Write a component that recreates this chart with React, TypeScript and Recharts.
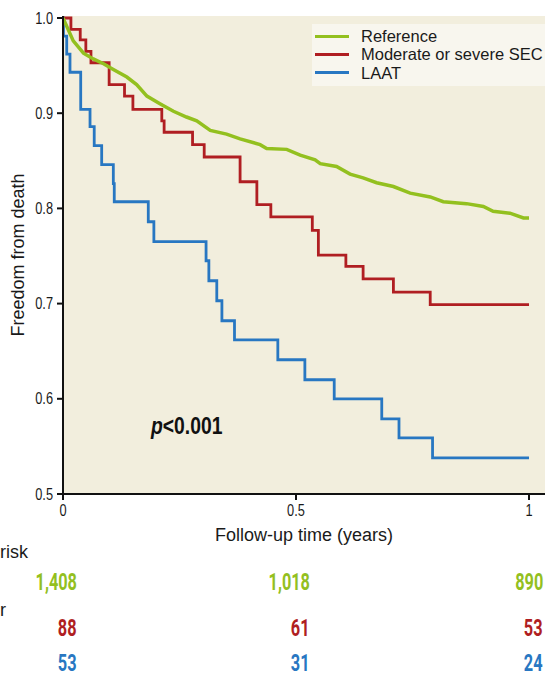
import { LineChart, Line, XAxis, YAxis, CartesianGrid, Legend } from "recharts";

// Kaplan-Meier estimates (time in years, survival)
const refTime = [0, 0.022, 0.044, 0.065, 0.087, 0.108, 0.137, 0.158, 0.18, 0.208, 0.237, 0.265, 0.287, 0.316, 0.351, 0.38, 0.423, 0.437, 0.48, 0.509, 0.541, 0.552, 0.587, 0.616, 0.644, 0.673, 0.709, 0.745, 0.788, 0.816, 0.866, 0.902, 0.923, 0.959, 0.988, 1.0];
const refSurv = [1.0, 0.976, 0.963, 0.957, 0.952, 0.946, 0.938, 0.93, 0.918, 0.91, 0.902, 0.896, 0.892, 0.882, 0.878, 0.873, 0.867, 0.863, 0.862, 0.856, 0.851, 0.847, 0.844, 0.836, 0.832, 0.827, 0.823, 0.816, 0.812, 0.807, 0.805, 0.802, 0.797, 0.795, 0.79, 0.79];

const secTime = [0, 0.017, 0.037, 0.049, 0.06, 0.099, 0.132, 0.15, 0.212, 0.217, 0.278, 0.303, 0.38, 0.416, 0.446, 0.535, 0.548, 0.607, 0.644, 0.709, 0.788, 1.0];
const secSurv = [1.0, 0.988, 0.977, 0.965, 0.953, 0.93, 0.918, 0.904, 0.892, 0.88, 0.867, 0.854, 0.828, 0.804, 0.791, 0.777, 0.751, 0.739, 0.726, 0.712, 0.699, 0.699];

const laatTime = [0, 0.001, 0.008, 0.015, 0.038, 0.058, 0.067, 0.083, 0.108, 0.11, 0.183, 0.195, 0.307, 0.313, 0.33, 0.341, 0.368, 0.461, 0.519, 0.582, 0.684, 0.721, 0.793, 1.0];
const laatSurv = [1.0, 0.981, 0.962, 0.943, 0.904, 0.886, 0.866, 0.846, 0.826, 0.807, 0.786, 0.765, 0.745, 0.724, 0.703, 0.682, 0.662, 0.641, 0.62, 0.6, 0.579, 0.559, 0.538, 0.538];

const seriesNames = ["Reference", "Moderate or severe SEC", "LAAT"];
const xTicks = [0, 0.5, 1];
const xTickLabels = ["0", "0.5", "1"];
const yTicks = [0.5, 0.6, 0.7, 0.8, 0.9, 1.0];

// numbers at risk
const riskTimes = [0, 0.5, 1];
const riskRef = ["1,408", "1,018", "890"];
const riskSec = ["88", "61", "53"];
const riskLaat = ["53", "31", "24"];

const GREEN = "#93c01f";
const RED = "#b01e22";
const BLUE = "#2877c2";
const colors = [GREEN, RED, BLUE];

const FONT = "'Liberation Sans', Arial, sans-serif";

const toRows = (ts: number[], vs: number[]) => ts.map((t, i) => ({ t, s: vs[i] }));
const refData = toRows(refTime, refSurv);
const secData = toRows(secTime, secSurv);
const laatData = toRows(laatTime, laatSurv);

// same mapping as the plot: x axis starts at 63px, 466px per year
const xPx = (t: number) => 63 + 466 * t;

const YTick = ({ x, y, payload }: any) => (
  <g transform={`translate(${x},${y})`}>
    <text x={0} y={0} dy={5.5} textAnchor="end" fontSize={16} fill="#1a1a1a" fontFamily={FONT} transform="scale(0.8,1)">
      {payload.value.toFixed(1)}
    </text>
  </g>
);

const XTick = ({ x, y, payload }: any) => (
  <g transform={`translate(${x},${y})`}>
    <text x={0} y={0} dy={14} textAnchor="middle" fontSize={16} fill="#1a1a1a" fontFamily={FONT} transform="scale(0.8,1)">
      {xTickLabels[xTicks.indexOf(payload.value)]}
    </text>
  </g>
);

const LegendBox = () => (
  <div style={{ background: "#f8f6ee", width: 233, height: 62, paddingTop: 3, boxSizing: "border-box", fontFamily: FONT }}>
    {seriesNames.map((n, i) => (
      <div key={n} style={{ display: "flex", alignItems: "center", height: 18.3 }}>
        <div style={{ width: 34, height: 3, background: colors[i], marginLeft: 3, marginRight: 12 }} />
        <span style={{ fontSize: 16.5, color: "#1a1a1a", lineHeight: "18px" }}>{n}</span>
      </div>
    ))}
  </div>
);

const riskRows = [
  { vals: riskRef, color: GREEN, y: 582 },
  { vals: riskSec, color: RED, y: 628 },
  { vals: riskLaat, color: BLUE, y: 663 },
];

const App = () => {
  return (
    <div style={{ position: "absolute", left: 0, top: 0, width: 545, height: 676, background: "#fff", fontFamily: FONT, overflow: "hidden" }}>
      <LineChart width={545} height={545} margin={{ top: 16, right: 0, left: 0, bottom: 0 }}>
        <CartesianGrid fill="#f2eedd" horizontal={false} vertical={false} />
        <XAxis
          type="number"
          dataKey="t"
          domain={[0, 1.0343]}
          ticks={xTicks}
          allowDataOverflow
          height={51}
          stroke="#111"
          strokeWidth={2}
          tickSize={6}
          tick={<XTick />}
          label={{ value: "Follow-up time (years)", position: "insideBottom", offset: 4, style: { fontSize: 18, fill: "#1a1a1a", fontFamily: FONT } }}
        />
        <YAxis
          type="number"
          dataKey="s"
          domain={[0.5, 1.0021]}
          ticks={yTicks}
          allowDataOverflow
          width={63}
          stroke="#111"
          strokeWidth={2}
          tickSize={6}
          tickMargin={4}
          tick={<YTick />}
          label={{ value: "Freedom from death", angle: -90, position: "insideLeft", offset: 18, style: { fontSize: 18, fill: "#1a1a1a", fontFamily: FONT, textAnchor: "middle" } }}
        />
        <Legend verticalAlign="middle" align="center" layout="horizontal" wrapperStyle={{ top: 24, left: 312, width: 233 }} content={<LegendBox />} />
        <Line data={laatData} dataKey="s" name={seriesNames[2]} type="stepAfter" stroke={BLUE} strokeWidth={2.8} dot={false} isAnimationActive={false} />
        <Line data={secData} dataKey="s" name={seriesNames[1]} type="stepAfter" stroke={RED} strokeWidth={2.8} dot={false} isAnimationActive={false} />
        <Line data={refData} dataKey="s" name={seriesNames[0]} type="linear" stroke={GREEN} strokeWidth={3.5} dot={false} isAnimationActive={false} />
      </LineChart>

      <div style={{ position: "absolute", left: 151, top: 413, fontSize: 23, fontWeight: 700, color: "#111", whiteSpace: "nowrap", transform: "scaleX(0.84)", transformOrigin: "left center" }}>
        <i>p</i>&lt;0.001
      </div>

      <div style={{ position: "absolute", left: 0, top: 542, fontSize: 18, color: "#1a1a1a" }}>risk</div>
      <div style={{ position: "absolute", left: 0, top: 600, fontSize: 18, color: "#1a1a1a" }}>r</div>

      {riskRows.map((row) =>
        row.vals.map((v, i) => (
          <div
            key={`${row.y}-${i}`}
            style={{
              position: "absolute",
              right: 545 - (xPx(riskTimes[i]) + 14),
              top: row.y - 11,
              fontSize: 24,
              fontWeight: 700,
              color: row.color,
              fontFamily: "Roboto, " + FONT,
              transform: "scaleX(0.68)",
              transformOrigin: "right center",
              whiteSpace: "nowrap",
              lineHeight: "22px",
              height: 22,
            }}
          >
            {v}
          </div>
        ))
      )}
    </div>
  );
};

export default App;
